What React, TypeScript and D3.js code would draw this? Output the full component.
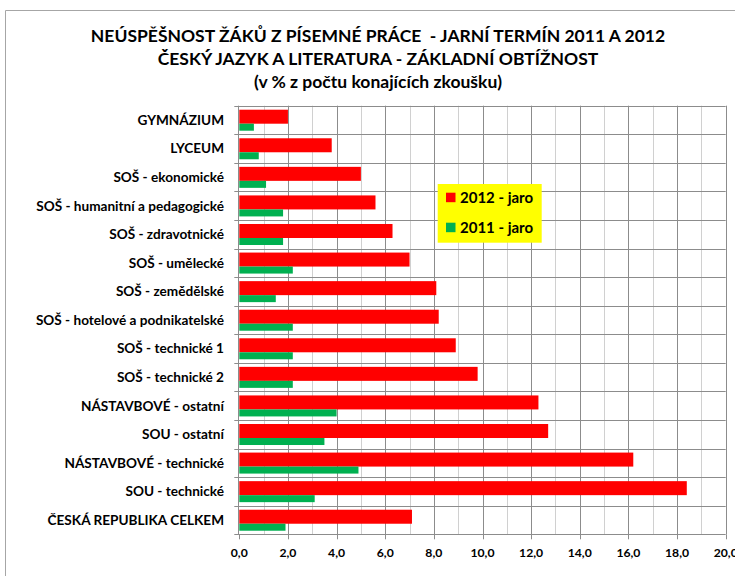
import React from "react";
import * as d3 from "d3";

const categories = [
  "GYMNÁZIUM",
  "LYCEUM",
  "SOŠ - ekonomické",
  "SOŠ - humanitní a pedagogické",
  "SOŠ - zdravotnické",
  "SOŠ - umělecké",
  "SOŠ - zemědělské",
  "SOŠ - hotelové a podnikatelské",
  "SOŠ - technické 1",
  "SOŠ - technické 2",
  "NÁSTAVBOVÉ - ostatní",
  "SOU - ostatní",
  "NÁSTAVBOVÉ - technické",
  "SOU - technické",
  "ČESKÁ REPUBLIKA CELKEM",
];
const values2012 = [2.0, 3.8, 5.0, 5.6, 6.3, 7.0, 8.1, 8.2, 8.9, 9.8, 12.3, 12.7, 16.2, 18.4, 7.1];
const values2011 = [0.6, 0.8, 1.1, 1.8, 1.8, 2.2, 1.5, 2.2, 2.2, 2.2, 4.0, 3.5, 4.9, 3.1, 1.9];
const seriesNames = ["2012 - jaro", "2011 - jaro"];
const seriesColors = ["#FF0000", "#00B050"];
const titleLines = [
  "NEÚSPĚŠNOST ŽÁKŮ Z PÍSEMNÉ PRÁCE  - JARNÍ TERMÍN 2011 A 2012",
  "ČESKÝ JAZYK A LITERATURA - ZÁKLADNÍ OBTÍŽNOST",
  "(v % z počtu konajících zkoušku)",
];
const majorTicks = [0, 2, 4, 6, 8, 10, 12, 14, 16, 18, 20];
const minorTicks = [1, 3, 5, 7, 9, 11, 13, 15, 17, 19];

const W = 735;
const H = 576;
const FONT = "Lato, Carlito, Calibri, 'Open Sans', sans-serif";

export default function App() {
  const left = 239.3;
  const right = 725.7;
  const top = 105.7;
  const bottom = 534.3;
  const x = d3.scaleLinear().domain([0, 20]).range([left, right]);
  const y = d3.scaleBand<string>().domain(categories).range([top, bottom]).paddingInner(0).paddingOuter(0);
  const bw = y.bandwidth();
  const fmt = (v: number) => v.toFixed(1).replace(".", ",");

  return (
    <svg width={W} height={H} style={{ position: "absolute", left: 0, top: 0, background: "#fff" }} fontFamily={FONT}>
      <rect x={0} y={0} width={W} height={H} fill="#fff" />
      {/* outer chart border */}
      <path d={`M5.5,${H} L5.5,10.5 L${W},10.5`} fill="none" stroke="#A6A6A6" strokeWidth={1} />
      {/* title */}
      {titleLines.map((t, i) => (
        <text key={i} x={378} y={42 + i * 23} textAnchor="middle" fontSize={17.5} fontWeight="bold" fill="#000" style={{ whiteSpace: "pre" }}>
          {t}
        </text>
      ))}
      {/* minor grid */}
      {minorTicks.map((t) => (
        <line key={"mi" + t} x1={Math.round(x(t)) + 0.5} x2={Math.round(x(t)) + 0.5} y1={top} y2={bottom} stroke="#D0D0D0" strokeWidth={1} />
      ))}
      {/* major grid */}
      {majorTicks.slice(1).map((t) => (
        <line key={"ma" + t} x1={Math.round(x(t)) + 0.5} x2={Math.round(x(t)) + 0.5} y1={top} y2={bottom} stroke="#8C8C8C" strokeWidth={1} />
      ))}
      {/* horizontal category gridlines */}
      {categories.map((c, i) => (
        <line key={"h" + i} x1={left - 5} x2={right} y1={Math.round(y(c)!) + 0.5} y2={Math.round(y(c)!) + 0.5} stroke="#8C8C8C" strokeWidth={1} />
      ))}
      {/* bars */}
      {categories.map((c, i) => {
        const y0 = y(c)!;
        const rY = y0 + bw * 0.14;
        const rH = bw * 0.49;
        const gH = bw * 0.245;
        return (
          <g key={"b" + i}>
            <rect x={x(0)} y={rY} width={x(values2012[i]) - x(0)} height={rH} fill={seriesColors[0]} />
            <rect x={x(0)} y={rY + rH} width={x(values2011[i]) - x(0)} height={gH} fill={seriesColors[1]} />
          </g>
        );
      })}
      {/* axes */}
      <line x1={Math.round(left) - 0.5} x2={Math.round(left) - 0.5} y1={top} y2={bottom} stroke="#8C8C8C" strokeWidth={1} />
      <line x1={left - 5} x2={right} y1={Math.round(bottom) + 0.5} y2={Math.round(bottom) + 0.5} stroke="#8C8C8C" strokeWidth={1} />
      {majorTicks.map((t) => (
        <line key={"tk" + t} x1={Math.round(x(t)) + 0.5} x2={Math.round(x(t)) + 0.5} y1={bottom} y2={bottom + 5} stroke="#8C8C8C" strokeWidth={1} />
      ))}
      {/* category labels */}
      {categories.map((c, i) => (
        <text key={"l" + i} x={224} y={y(c)! + bw / 2 + 4.8} textAnchor="end" fontSize={13.6} fontWeight="bold" fill="#000">
          {c}
        </text>
      ))}
      {/* tick labels */}
      {majorTicks.map((t) => (
        <text key={"tl" + t} x={x(t)} y={557} textAnchor="middle" fontSize={12.2} fontWeight="bold" fill="#000">
          {fmt(t)}
        </text>
      ))}
      {/* legend */}
      <rect x={437.7} y={184} width={104} height={58.7} fill="#FFFF00" />
      {seriesNames.map((s, i) => (
        <g key={"lg" + i}>
          <rect x={446} y={192.7 + i * 30} width={9.5} height={9.5} fill={seriesColors[i]} />
          <text x={460} y={203 + i * 30} fontSize={15} fontWeight="bold" fill="#000">
            {s}
          </text>
        </g>
      ))}
    </svg>
  );
}
